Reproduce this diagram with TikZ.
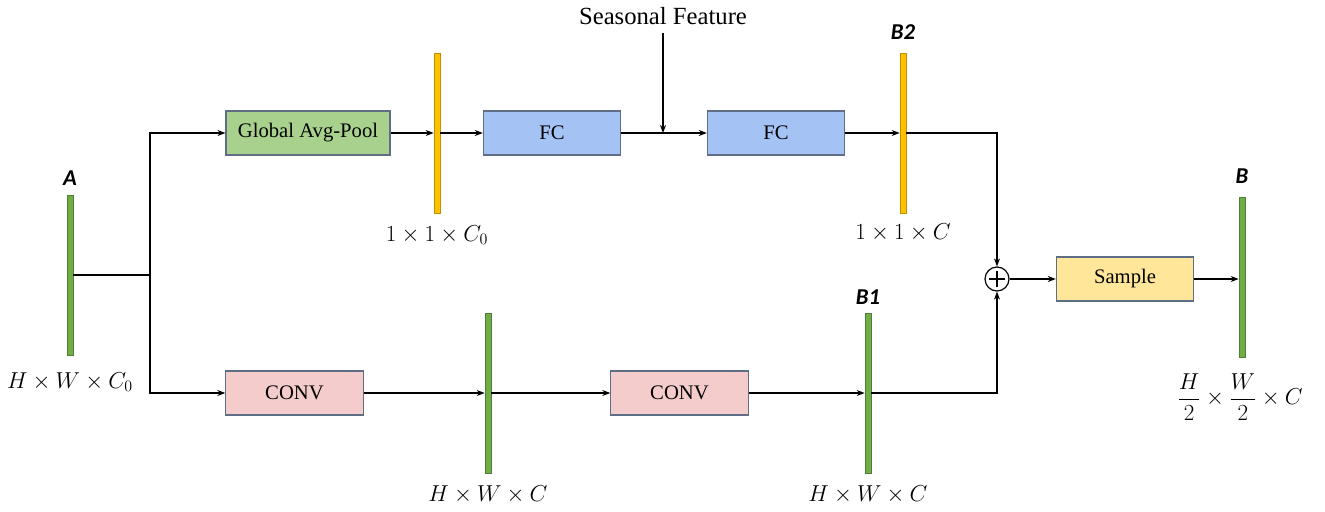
\documentclass[tikz,border=0pt]{standalone}
\usepackage{amsmath}
\usepackage{fontspec}
\setmainfont{Liberation Serif}
\newfontfamily\lblfont{Carlito}
\usetikzlibrary{arrows.meta}
\definecolor{barG}{HTML}{70AD47}
\definecolor{barGb}{HTML}{507E32}
\definecolor{barY}{HTML}{FFC000}
\definecolor{barYb}{HTML}{BF9000}
\definecolor{boxG}{HTML}{A9D18E}
\definecolor{boxB}{HTML}{A4C2F4}
\definecolor{boxP}{HTML}{F4CCCC}
\definecolor{boxY}{HTML}{FFE699}
\definecolor{boxline}{HTML}{5E6E86}
\tikzset{
  blk/.style={draw=boxline, line width=0.8pt, minimum width=103pt, minimum height=33pt, inner sep=0pt, font=\fontsize{15.5}{17}\selectfont},
  gbar/.style={draw=barGb, fill=barG, line width=0.5pt, minimum width=4.5pt, minimum height=120pt, inner sep=0pt},
  ybar/.style={draw=barYb, fill=barY, line width=0.5pt, minimum width=4.5pt, minimum height=120pt, inner sep=0pt},
  conn/.style={line width=0.9pt, -{Stealth[length=6pt,width=4.5pt]}},
  plain/.style={line width=0.9pt},
  tag/.style={font=\lblfont\bfseries\itshape\fontsize{17}{19}\selectfont},
  dim/.style={font=\fontsize{17}{19}\selectfont},
}
\begin{document}
\begin{tikzpicture}[x=0.75pt,y=-0.75pt]
\useasboundingbox (0,0) rectangle (1325,511);
% bars
\node[gbar] (A) at (70,275) {};
\node[ybar] (Y1) at (437,133) {};
\node[ybar] (B2) at (903,133) {};
\node[gbar] (G2) at (488,393) {};
\node[gbar] (B1) at (868,393) {};
\node[gbar] (B) at (1242,277) {};
% labels
\node[tag] (lA) at (70,178) {A};
\node[tag] (lB2) at (903,32) {B2};
\node[tag] (lB1) at (868,297) {B1};
\node[tag] (lB) at (1242,176) {B};
\node[dim] (dA) at (70,382) {$H\times W\times C_0$};
\node[dim] (dY1) at (437,235) {$1\times 1\times C_0$};
\node[dim] (dB2) at (903,233) {$1\times 1\times C$};
\node[dim] (dG2) at (488,495) {$H\times W\times C$};
\node[dim] (dB1) at (868,495) {$H\times W\times C$};
\node[dim, font=\fontsize{16}{18}\selectfont] (dB) at (1240,397) {$\dfrac{H}{2}\times\dfrac{W}{2}\times C$};
% boxes
\node[blk, fill=boxG, minimum width=123pt] (gap) at (308,133) {Global Avg-Pool};
\node[blk, fill=boxB] (fc1) at (552,133) {FC};
\node[blk, fill=boxB] (fc2) at (776,133) {FC};
\node[blk, fill=boxY] (smp) at (1125,279) {Sample};
\node[blk, fill=boxP] (cv1) at (294.5,393) {CONV};
\node[blk, fill=boxP] (cv2) at (679.5,393) {CONV};
\node[circle, draw, line width=0.9pt, minimum size=18pt, inner sep=0pt] (add) at (997,279) {};
\draw[line width=0.9pt] ([yshift=-6pt]add.center) -- ([yshift=6pt]add.center)
  ([xshift=-6pt]add.center) -- ([xshift=6pt]add.center);
\node[font=\fontsize{18.5}{20}\selectfont] (sf) at (663,16) {Seasonal Feature};
% coordinates
\coordinate (split) at (150,275);
\coordinate (join) at (663,133);
\coordinate (sftop) at (663,33);
% connectors
\draw[plain] (A.east |- split) -- (split);
\draw[conn] (split) |- (gap.west);
\draw[conn] (split) |- (cv1.west);
\draw[conn] (gap.east) -- (gap.east -| Y1.west);
\draw[conn] (Y1.east |- fc1.west) -- (fc1.west);
\draw[conn] (fc1.east) -- (fc2.west);
\draw[conn] (sftop) -- (join);
\draw[conn] (fc2.east) -- (fc2.east -| B2.west);
\draw[conn] (B2.east |- fc2.east) -| (add.north);
\draw[conn] (cv1.east) -- (cv1.east -| G2.west);
\draw[conn] (G2.east |- cv2.west) -- (cv2.west);
\draw[conn] (cv2.east) -- (cv2.east -| B1.west);
\draw[conn] (B1.east |- cv2.east) -| (add.south);
\draw[conn] (add.east) -- (smp.west);
\draw[conn] (smp.east) -- (smp.east -| B.west);
\end{tikzpicture}
\end{document}
